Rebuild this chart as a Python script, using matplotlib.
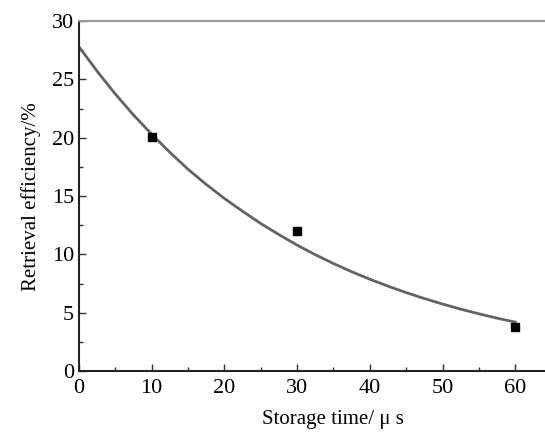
import matplotlib

matplotlib.use("Agg")
import matplotlib.pyplot as plt
from matplotlib.ticker import MultipleLocator

plt.rcParams["font.family"] = ["Liberation Serif", "DejaVu Serif"]

# measured points
storage_time = [10, 30, 60]
efficiency = [20.1, 12.0, 3.8]

# fitted decay curve
fit_time = [0, 2.5, 5, 7.5, 10, 12.5, 15, 17.5, 20, 22.5, 25, 27.5, 30,
            32.5, 35, 37.5, 40, 42.5, 45, 47.5, 50, 52.5, 55, 57.5, 60]
fit_eff = [27.8, 25.7, 23.75, 21.95, 20.3, 18.75, 17.3, 16.0, 14.8, 13.7,
           12.65, 11.7, 10.8, 9.98, 9.22, 8.52, 7.88, 7.28, 6.73, 6.22,
           5.75, 5.31, 4.91, 4.54, 4.2]

fig = plt.figure(figsize=(5.45, 4.32), dpi=100)
ax = fig.add_axes([0.145, 0.141, 0.855, 0.810])

ax.plot(fit_time, fit_eff, color="#636363", lw=2.0, zorder=2)
ax.plot(storage_time, efficiency, ls="none", marker="s", ms=6,
        color="black", zorder=3)

ax.set_xlim(0, 64.1)
ax.set_ylim(0, 30)
ax.xaxis.set_major_locator(MultipleLocator(10))
ax.xaxis.set_minor_locator(MultipleLocator(5))
ax.yaxis.set_major_locator(MultipleLocator(5))
ax.yaxis.set_minor_locator(MultipleLocator(2.5))
ax.tick_params(which="both", direction="in", top=False, right=False,
               labelsize=16, color="#333333")
ax.tick_params(which="major", length=5, width=1)
ax.tick_params(which="minor", length=3, width=1)
ax.tick_params(axis="x", pad=6)

for side in ("left", "bottom"):
    ax.spines[side].set_linewidth(1.5)
    ax.spines[side].set_color("#222222")
ax.spines["top"].set_color("#9a9a9a")
ax.spines["top"].set_linewidth(1.5)
ax.spines["right"].set_visible(False)

ax.set_xlabel("Storage time/ μ s", fontsize=15, labelpad=8)
ax.xaxis.label.set_x(0.545)
ax.set_ylabel("Retrieval efficiency/%", fontsize=15, labelpad=8)

fig.savefig("out.png", dpi=100)
plt.close(fig)
